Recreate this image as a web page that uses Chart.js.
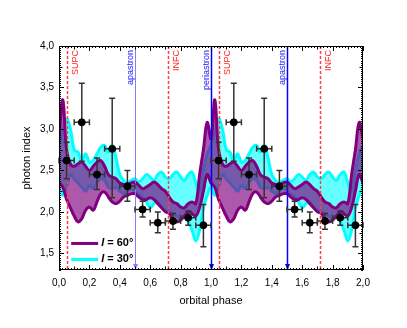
<!DOCTYPE html>
<html>
<head>
<meta charset="utf-8">
<script src="https://cdn.jsdelivr.net/npm/chart.js"></script>
<style>
  html, body { margin: 0; padding: 0; background: #fff; }
  #wrap { width: 407px; height: 328px; }
</style>
</head>
<body>
<div id="wrap"><canvas id="chart"></canvas></div>
<script>
// one orbital cycle, repeated for phase 1..2
const phase = [0, 0.025, 0.05, 0.075, 0.1, 0.125, 0.15, 0.175, 0.2, 0.225,
  0.25, 0.275, 0.3, 0.325, 0.35, 0.375, 0.4, 0.425, 0.45, 0.475,
  0.5, 0.525, 0.55, 0.575, 0.6, 0.625, 0.65, 0.675, 0.7, 0.725,
  0.75, 0.775, 0.8, 0.825, 0.85, 0.875, 0.9, 0.925, 0.95, 0.975];

// I = 60 deg band
const i60hi = [2.88, 3.35, 2.75, 2.58, 2.55, 2.58, 2.60, 2.55, 2.50, 2.55,
  2.60, 2.62, 2.55, 2.45, 2.42, 2.40, 2.35, 2.33, 2.32, 2.35,
  2.36, 2.32, 2.28, 2.30, 2.33, 2.36, 2.33, 2.28, 2.25, 2.18,
  2.12, 2.10, 2.06, 2.05, 2.10, 2.12, 2.10, 2.45, 2.75, 3.08];
const i60lo = [2.35, 2.30, 2.15, 2.05, 1.95, 1.88, 1.92, 2.02, 2.06, 2.02,
  2.12, 2.22, 2.24, 2.18, 2.12, 2.10, 2.13, 2.18, 2.20, 2.22,
  2.22, 2.18, 2.15, 2.15, 2.17, 2.15, 2.10, 2.05, 2.00, 1.98,
  1.90, 1.88, 1.90, 1.95, 2.00, 1.98, 1.95, 2.05, 2.25, 2.45];

// I = 30 deg band
const i30hi = [2.80, 2.95, 3.12, 3.00, 2.75, 2.72, 2.62, 2.70, 2.60, 2.62,
  2.70, 2.78, 2.80, 2.72, 2.80, 2.65, 2.45, 2.38, 2.35, 2.38,
  2.40, 2.36, 2.40, 2.45, 2.42, 2.38, 2.45, 2.48, 2.42, 2.40,
  2.45, 2.48, 2.42, 2.38, 2.45, 2.48, 2.35, 2.25, 2.50, 2.70];
const i30lo = [2.30, 2.20, 2.30, 2.45, 2.40, 2.35, 2.30, 2.25, 2.32, 2.28,
  2.35, 2.40, 2.38, 2.30, 2.28, 2.30, 2.25, 2.22, 2.25, 2.28,
  2.25, 2.22, 2.18, 2.12, 2.05, 2.10, 2.12, 2.05, 2.02, 2.00,
  1.98, 1.95, 1.92, 1.95, 1.88, 1.78, 1.65, 1.78, 2.05, 2.20];

// measured photon index per phase bin
const binPhase = [0.05, 0.15, 0.25, 0.35, 0.45, 0.55, 0.65, 0.75, 0.85, 0.95];
const binIndex = [2.62, 3.08, 2.45, 2.76, 2.31, 2.03, 1.87, 1.89, 1.93, 1.84];
const binHi    = [2.84, 3.55, 2.65, 3.37, 2.50, 2.13, 2.00, 1.98, 2.01, 2.09];
const binLo    = [2.40, 2.61, 2.27, 2.17, 2.13, 1.94, 1.75, 1.79, 1.84, 1.58];
const binHalfWidth = 0.05;

// orbital markers
const markers = [
  { x: 0.05, label: 'SUPC', kind: 'conj' },
  { x: 0.5, label: 'apastron', kind: 'apsis-light' },
  { x: 0.72, label: 'INFC', kind: 'conj' },
  { x: 1.0, label: 'periastron', kind: 'apsis' },
  { x: 1.05, label: 'SUPC', kind: 'conj' },
  { x: 1.5, label: 'apastron', kind: 'apsis' },
  { x: 1.72, label: 'INFC', kind: 'conj' }
];

const xTicks = [0, 0.2, 0.4, 0.6, 0.8, 1.0, 1.2, 1.4, 1.6, 1.8, 2.0];
const yTicks = [1.5, 2.0, 2.5, 3.0, 3.5, 4.0];

function twoCycles(vals) {
  const out = [];
  for (let c = 0; c < 2; c++) {
    phase.forEach((p, i) => out.push({ x: p + c, y: vals[i] }));
  }
  out.push({ x: 2, y: vals[0] });
  return out;
}

const points = [];
const errs = [];
for (let c = 0; c < 2; c++) {
  binPhase.forEach((p, i) => {
    points.push({ x: p + c, y: binIndex[i] });
    errs.push({ x: p + c, y: binIndex[i], hi: binHi[i], lo: binLo[i] });
  });
}

const comma = v => v.toFixed(1).replace('.', ',');
const FONT = '"Liberation Sans", Arial, sans-serif';

const decor = {
  id: 'decor',
  beforeDatasetDraw(chart, args) {
    if (args.index !== 0) return;
    const ctx = chart.ctx;
    const xs = chart.scales.x, ys = chart.scales.y;
    const a = chart.chartArea;
    ctx.save();
    // vertical markers
    markers.forEach(m => {
      const px = Math.round(xs.getPixelForValue(m.x)) + 0.5;
      ctx.beginPath();
      if (m.kind === 'conj') {
        ctx.strokeStyle = '#ff4040';
        ctx.lineWidth = 1.5;
        ctx.setLineDash([3, 2]);
      } else {
        ctx.strokeStyle = m.kind === 'apsis' ? '#0000ff' : '#8080ff';
        ctx.lineWidth = m.kind === 'apsis' ? 1.5 : 1;
        ctx.setLineDash([]);
      }
      ctx.moveTo(px, a.top);
      ctx.lineTo(px, a.bottom);
      ctx.stroke();
      ctx.setLineDash([]);
      if (m.kind !== 'conj') {
        ctx.fillStyle = ctx.strokeStyle;
        ctx.beginPath();
        ctx.moveTo(px - 2.5, a.bottom - 6);
        ctx.lineTo(px + 2.5, a.bottom - 6);
        ctx.lineTo(px, a.bottom);
        ctx.closePath();
        ctx.fill();
      }
      // label
      ctx.save();
      ctx.font = '9px ' + FONT;
      ctx.fillStyle = m.kind === 'conj' ? '#ff2020' : '#2020ff';
      const tx = m.kind === 'conj' ? px + 8 : px - 5;
      ctx.translate(tx, a.top + 4);
      ctx.rotate(-Math.PI / 2);
      ctx.textAlign = 'right';
      ctx.textBaseline = 'middle';
      ctx.fillText(m.label, 0, 0);
      ctx.restore();
    });
    // error bars
    ctx.strokeStyle = '#333';
    ctx.lineWidth = 1.5;
    errs.forEach(e => {
      const px = xs.getPixelForValue(e.x);
      const py = ys.getPixelForValue(e.y);
      const ph = ys.getPixelForValue(e.hi);
      const pl = ys.getPixelForValue(e.lo);
      const x0 = xs.getPixelForValue(e.x - binHalfWidth);
      const x1 = xs.getPixelForValue(e.x + binHalfWidth);
      ctx.beginPath();
      ctx.moveTo(px, ph); ctx.lineTo(px, pl);
      ctx.moveTo(px - 3, ph); ctx.lineTo(px + 3, ph);
      ctx.moveTo(px - 3, pl); ctx.lineTo(px + 3, pl);
      ctx.moveTo(x0, py); ctx.lineTo(x1, py);
      ctx.moveTo(x0, py - 3); ctx.lineTo(x0, py + 3);
      ctx.moveTo(x1, py - 3); ctx.lineTo(x1, py + 3);
      ctx.stroke();
    });
    ctx.restore();
  },
  afterDraw(chart) {
    const ctx = chart.ctx;
    const xs = chart.scales.x, ys = chart.scales.y;
    const a = chart.chartArea;
    ctx.save();
    ctx.strokeStyle = '#000';
    ctx.lineWidth = 1;
    ctx.strokeRect(a.left + 0.5, a.top + 0.5, a.right - a.left - 1, a.bottom - a.top - 1);
    ctx.beginPath();
    // x ticks every 0.02, top and bottom
    for (let k = 0; k <= 100; k++) {
      const v = k * 0.02;
      const px = Math.round(xs.getPixelForValue(v)) + 0.5;
      const len = k % 10 === 0 ? 5 : (k % 5 === 0 ? 3.5 : 2);
      ctx.moveTo(px, a.bottom); ctx.lineTo(px, a.bottom - len);
      ctx.moveTo(px, a.top); ctx.lineTo(px, a.top + len);
    }
    // y ticks every 0.025, left and right
    for (let k = 0; k <= 108; k++) {
      const v = 1.3 + k * 0.025;
      if (v > 4.0001) break;
      const py = Math.round(ys.getPixelForValue(v)) + 0.5;
      const r = Math.round(v * 1000) % 500;
      const len = r === 0 ? 5 : (r === 250 ? 3.5 : 2);
      ctx.moveTo(a.left, py); ctx.lineTo(a.left + len, py);
      ctx.moveTo(a.right, py); ctx.lineTo(a.right - len, py);
    }
    ctx.stroke();

    // legend
    const lx = xs.getPixelForValue(0.08), ly = ys.getPixelForValue(1.62);
    const rows = [
      { color: '#800080', text: ' = 60°' },
      { color: '#00ffff', text: ' = 30°' }
    ];
    rows.forEach((r, i) => {
      const y = ly + i * 16;
      ctx.strokeStyle = r.color;
      ctx.lineWidth = 3;
      ctx.beginPath();
      ctx.moveTo(lx, y); ctx.lineTo(lx + 27, y);
      ctx.stroke();
      ctx.fillStyle = '#000';
      ctx.textBaseline = 'middle';
      ctx.textAlign = 'left';
      ctx.font = 'italic bold 11px ' + FONT;
      ctx.fillText('I', lx + 30, y);
      const w = ctx.measureText('I').width;
      ctx.font = 'bold 11px ' + FONT;
      ctx.fillText(r.text, lx + 30 + w, y);
    });

    // axis titles
    ctx.fillStyle = '#000';
    ctx.font = '11px ' + FONT;
    ctx.textAlign = 'center';
    ctx.textBaseline = 'middle';
    ctx.fillText('orbital phase', (a.left + a.right) / 2, 301);
    ctx.translate(27, (a.top + a.bottom) / 2);
    ctx.rotate(-Math.PI / 2);
    ctx.fillText('photon index', 0, 0);
    ctx.restore();
  }
};

const ctx = document.getElementById('chart').getContext('2d');
new Chart(ctx, {
  type: 'line',
  data: {
    datasets: [
      {
        label: 'data',
        data: points,
        showLine: false,
        pointRadius: 3.5,
        pointBackgroundColor: '#000',
        pointBorderColor: '#000'
      },
      {
        label: 'I = 60 upper',
        data: twoCycles(i60hi),
        borderColor: '#800080',
        borderWidth: 3,
        pointRadius: 0,
        tension: 0.4,
        fill: { target: '+1' },
        backgroundColor: 'rgba(128, 0, 128, 0.65)'
      },
      {
        label: 'I = 60 lower',
        data: twoCycles(i60lo),
        borderColor: '#800080',
        borderWidth: 3,
        pointRadius: 0,
        tension: 0.4,
        fill: false
      },
      {
        label: 'I = 30 upper',
        data: twoCycles(i30hi),
        borderColor: '#00ffff',
        borderWidth: 3,
        pointRadius: 0,
        tension: 0.4,
        fill: { target: '+1' },
        backgroundColor: 'rgba(0, 255, 255, 0.6)'
      },
      {
        label: 'I = 30 lower',
        data: twoCycles(i30lo),
        borderColor: '#00ffff',
        borderWidth: 3,
        pointRadius: 0,
        tension: 0.4,
        fill: false
      }
    ]
  },
  options: {
    responsive: true,
    maintainAspectRatio: false,
    animation: false,
    layout: { padding: { top: 46, right: 44, left: 0, bottom: 0 } },
    plugins: {
      legend: { display: false },
      tooltip: { enabled: false },
      filler: { propagate: false }
    },
    scales: {
      x: {
        type: 'linear',
        min: 0,
        max: 2,
        afterBuildTicks: s => { s.ticks = xTicks.map(v => ({ value: v })); },
        afterFit: s => { s.height = 58; },
        grid: { display: false, drawTicks: false },
        border: { display: false },
        ticks: {
          padding: 7,
          maxRotation: 0,
          autoSkip: false,
          color: '#000',
          font: { family: FONT, size: 10 },
          callback: v => comma(v)
        }
      },
      y: {
        type: 'linear',
        min: 1.3,
        max: 4.0,
        afterBuildTicks: s => { s.ticks = yTicks.map(v => ({ value: v })); },
        afterFit: s => { s.width = 59; },
        grid: { display: false, drawTicks: false },
        border: { display: false },
        ticks: {
          padding: 5,
          color: '#000',
          font: { family: FONT, size: 10 },
          callback: v => comma(v)
        }
      }
    }
  },
  plugins: [decor]
});
</script>
</body>
</html>
